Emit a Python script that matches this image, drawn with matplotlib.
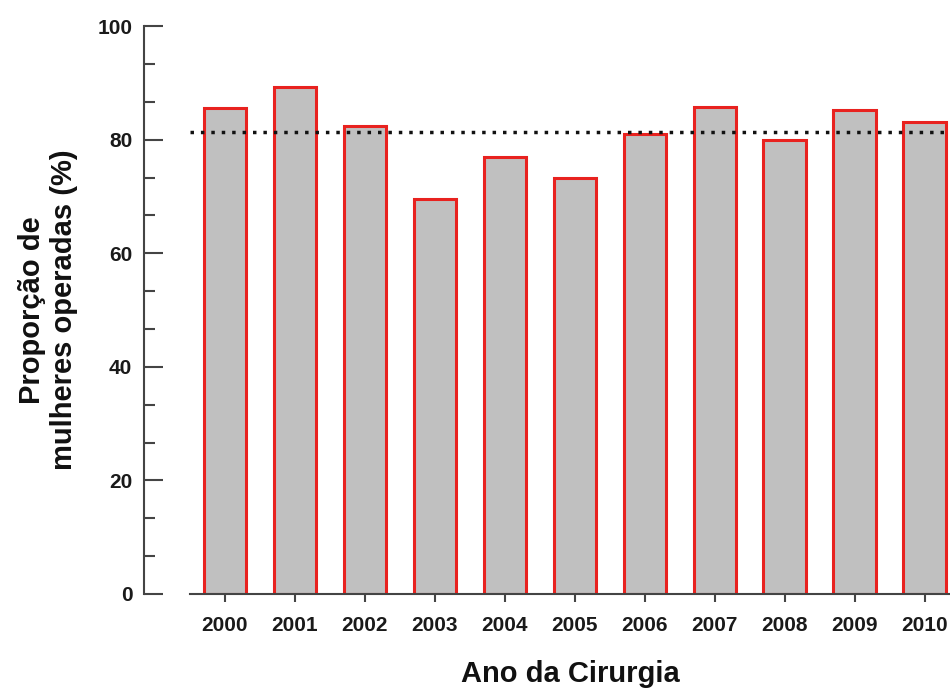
import matplotlib
matplotlib.use("Agg")
import matplotlib.pyplot as plt
from matplotlib.ticker import MultipleLocator

plt.rcParams['font.family'] = ['Liberation Sans', 'DejaVu Sans']

years = ['2000', '2001', '2002', '2003', '2004', '2005', '2006', '2007', '2008', '2009', '2010']
proportions = [85.6, 89.2, 82.4, 69.5, 76.9, 73.2, 81.0, 85.7, 79.9, 85.3, 83.2]
mean_line = 81.4

fig = plt.figure(figsize=(9.5, 6.89), dpi=100)
ax = fig.add_axes([0.2, 0.138, 0.8, 0.824])

x = list(range(len(years)))
ax.bar(x, proportions, width=0.61, color='#c0c0c0', edgecolor='#e8221f', linewidth=2.2, zorder=2)
ax.axhline(mean_line, color='#111111', linestyle=(0, (1, 2)), linewidth=2.5, zorder=3)

ax.set_xlim(-0.5, 10.36)
ax.set_ylim(0, 100)

for s in ['top', 'right']:
    ax.spines[s].set_visible(False)
ax.spines['left'].set_position(('outward', 33))
ax.spines['left'].set_color('#444444')
ax.spines['bottom'].set_color('#444444')
ax.spines['left'].set_linewidth(1.5)
ax.spines['bottom'].set_linewidth(1.5)

ax.set_xticks(x)
ax.set_xticklabels(years, fontsize=15, fontweight='bold', color='#1a1a1a')
ax.yaxis.set_major_locator(MultipleLocator(20))
ax.yaxis.set_minor_locator(MultipleLocator(20 / 3))
ax.tick_params(axis='y', which='major', direction='in', length=14, width=1.5, color='#444444',
               labelsize=15, pad=8.5, labelcolor='#1a1a1a')
ax.tick_params(axis='y', which='minor', direction='in', length=8, width=1.5, color='#444444')
ax.tick_params(axis='x', which='major', direction='out', length=6, width=1.5, color='#444444', pad=10)
for lbl in ax.get_yticklabels():
    lbl.set_fontweight('bold')

ax.set_xlabel('Ano da Cirurgia', fontsize=21, fontweight='bold', labelpad=18, color='#111111')
ax.set_ylabel('Proporção de\nmulheres operadas (%)', fontsize=21, fontweight='bold', labelpad=14,
              color='#111111')

fig.savefig('out.png', dpi=100)
